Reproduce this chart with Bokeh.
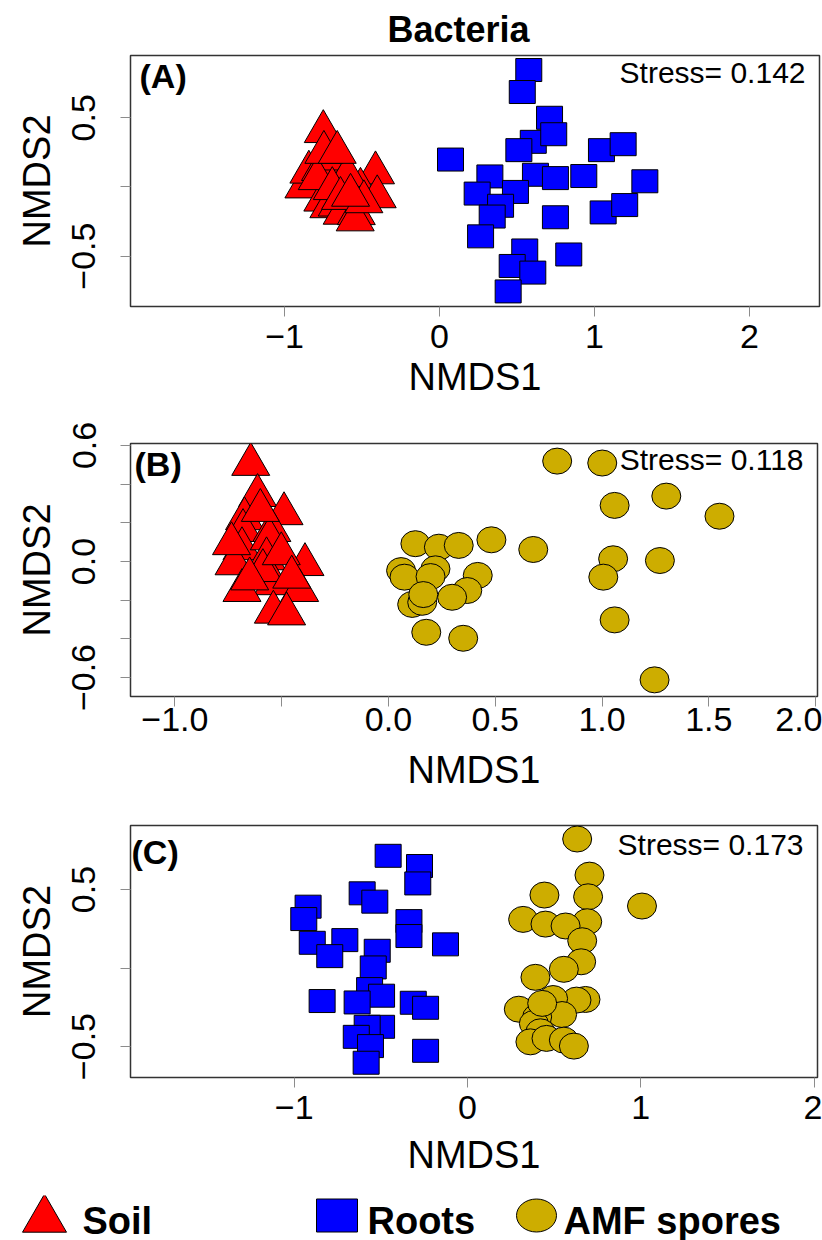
from bokeh.plotting import figure
from bokeh.models import Range1d, FixedTicker, Label
from bokeh.layouts import column
from bokeh.embed import file_html
from bokeh.resources import INLINE
from bokeh.core.properties import value

# ---------------- data ----------------
GROUPS = ["Soil", "Roots", "AMF spores"]
COLORS = {"Soil": "#FF0000", "Roots": "#0000FF", "AMF spores": "#CDAD00"}

# Panel A (Bacteria: Soil vs Roots)
A_SOIL_X = [-0.750, -0.413, -0.875, -0.510, -0.402, -0.753, -0.714, -0.660, -0.628, -0.537,
            -0.544, -0.843, -0.768, -0.725, -0.671, -0.617, -0.595, -0.789, -0.692, -0.639,
            -0.488, -0.574, -0.746, -0.660]
A_SOIL_Y = [0.400, 0.102, 0.000, -0.017, -0.071, -0.095, -0.143, -0.131, -0.190, -0.193,
            -0.238, 0.107, 0.126, 0.155, 0.202, 0.036, 0.083, 0.060, -0.012, -0.083,
            -0.107, -0.060, 0.250, 0.250]
A_ROOTS_X = [0.576, 0.534, 0.710, 0.605, 0.737, 0.512, 1.045, 1.185, 0.325, 0.619,
             0.748, 0.931, 1.325, 0.490, 0.243, 0.394, 0.340, 0.748, 1.056, 1.195,
             0.265, 0.550, 0.834, 0.469, 0.602, 0.443, 0.071]
A_ROOTS_Y = [0.845, 0.686, 0.500, 0.326, 0.381, 0.266, 0.266, 0.309, 0.076, 0.088,
             0.064, 0.079, 0.041, -0.036, -0.048, -0.136, -0.214, -0.219, -0.184, -0.131,
             -0.357, -0.459, -0.488, -0.571, -0.619, -0.755, 0.198]

# Panel B (Soil vs AMF spores)
B_SOIL_X = [-0.645, -0.613, -0.489, -0.674, -0.681, -0.546, -0.686, -0.558, -0.391, -0.723,
            -0.571, -0.539, -0.416, -0.686, -0.539, -0.477, -0.588, -0.735, -0.502, -0.600,
            -0.453, -0.650]
B_SOIL_Y = [0.502, 0.341, 0.247, 0.221, 0.160, 0.160, 0.066, 0.117, -0.016, -0.012,
            0.014, -0.115, -0.150, -0.150, -0.262, -0.271, -0.047, 0.092, 0.040, 0.264,
            -0.081, -0.090]
B_AMF_X = [0.790, 1.001, 1.059, 1.301, 1.550, 0.126, 0.236, 0.329, 0.482, 0.678,
           1.052, 1.271, 1.006, 0.059, 0.075, 0.220, 0.197, 0.418, 0.369, 0.298,
           0.111, 0.158, 0.163, 0.177, 0.350, 1.059, 1.246]
B_AMF_Y = [0.519, 0.509, 0.290, 0.338, 0.234, 0.092, 0.074, 0.083, 0.112, 0.062,
           0.014, 0.005, -0.081, -0.047, -0.081, -0.038, -0.078, -0.072, -0.150, -0.185,
           -0.222, -0.211, -0.171, -0.366, -0.397, -0.302, -0.612]

# Panel C (Roots vs AMF spores)
C_ROOTS_X = [-0.458, -0.277, -0.287, -0.608, -0.535, -0.920, -0.945, -0.338, -0.338, -0.708,
             -0.896, -0.127, -0.795, -0.521, -0.544, -0.565, -0.496, -0.839, -0.637, -0.313,
             -0.242, -0.496, -0.579, -0.642, -0.560, -0.242, -0.585]
C_ROOTS_Y = [0.715, 0.650, 0.539, 0.476, 0.423, 0.391, 0.312, 0.299, 0.204, 0.178,
             0.161, 0.151, 0.076, 0.110, 0.004, -0.134, -0.176, -0.210, -0.219, -0.221,
             -0.253, -0.374, -0.374, -0.438, -0.497, -0.527, -0.603]
C_AMF_X = [0.633, 0.704, 0.444, 0.696, 1.007, 0.321, 0.450, 0.691, 0.566, 0.662,
           0.656, 0.556, 0.392, 0.681, 0.629, 0.494, 0.296, 0.546, 0.402, 0.383,
           0.421, 0.363, 0.456, 0.556, 0.614, 0.431]
C_AMF_Y = [0.822, 0.592, 0.465, 0.454, 0.395, 0.310, 0.280, 0.295, 0.268, 0.174,
           0.040, -0.008, -0.059, -0.200, -0.204, -0.194, -0.262, -0.296, -0.311, -0.353,
           -0.406, -0.470, -0.448, -0.459, -0.497, -0.225]

# tick labels
A_XTICKS = [-1, 0, 1, 2]
A_XLABELS = ["\u22121", "0", "1", "2"]
A_YTICKS = [-0.5, 0, 0.5]
A_YLABELS = ["\u22120.5", "", "0.5"]
B_XTICKS = [-1.0, -0.5, 0.0, 0.5, 1.0, 1.5, 2.0]
B_XLABELS = ["\u22121.0", "", "0.0", "0.5", "1.0", "1.5", "2.0"]
B_YTICKS = [-0.6, -0.4, -0.2, 0.0, 0.2, 0.4, 0.6]
B_YLABELS = ["\u22120.6", "", "", "0.0", "", "", "0.6"]
C_XTICKS = [-1, 0, 1, 2]
C_XLABELS = ["\u22121", "0", "1", "2"]
C_YTICKS = [-0.5, 0, 0.5]
C_YLABELS = ["\u22120.5", "", "0.5"]

STRESS = ["Stress= 0.142", "Stress= 0.118", "Stress= 0.173"]
TAGS = ["(A)", "(B)", "(C)"]

FONT = "Liberation Sans"
W = 822


def no_align(p):
    try:
        p.frame_align = False
    except Exception:
        pass


def panel(height, top, bottom, right, xr, yr, xt, xl, yt, yl, tag, stress,
          tag_off, stress_off, x_standoffs, title=None):
    p = figure(width=W, height=height, x_range=Range1d(*xr), y_range=Range1d(*yr),
               output_backend="svg", toolbar_location=None,
               min_border_left=130, min_border_right=right,
               min_border_top=top, min_border_bottom=bottom)
    no_align(p)
    p.xgrid.visible = False
    p.ygrid.visible = False
    p.outline_line_color = "#333333"
    p.outline_line_width = 1.5
    p.background_fill_color = "white"
    p.border_fill_color = "white"
    p.xaxis.ticker = FixedTicker(ticks=xt)
    p.yaxis.ticker = FixedTicker(ticks=yt)
    p.xaxis.major_label_overrides = {t: s for t, s in zip(xt, xl)}
    p.yaxis.major_label_overrides = {t: s for t, s in zip(yt, yl)}
    p.xaxis.axis_label = "NMDS1"
    p.yaxis.axis_label = "NMDS2"
    p.yaxis.major_label_orientation = "vertical"
    for ax in (p.xaxis[0], p.yaxis[0]):
        ax.axis_line_color = None
        ax.major_tick_line_color = "#8c8c8c"
        ax.major_tick_line_width = 1
        ax.major_tick_out = 10
        ax.major_tick_in = 0
        ax.minor_tick_line_color = None
        ax.major_label_text_font = FONT
        ax.major_label_text_font_size = "34px"
        ax.major_label_text_color = "black"
        ax.axis_label_text_font = FONT
        ax.axis_label_text_font_size = "38px"
        ax.axis_label_text_font_style = "normal"
        ax.axis_label_text_color = "black"
    p.xaxis.major_label_standoff = x_standoffs[0]
    p.xaxis.axis_label_standoff = x_standoffs[1]
    p.yaxis.major_label_standoff = 25
    p.yaxis.axis_label_standoff = 12
    if title:
        p.title.text = title
        p.title.align = "left"
        p.title.text_font = FONT
        p.title.text_font_size = "36px"
        p.title.text_font_style = "bold"
        p.title.text_color = "black"
        p.title.standoff = 12
        p.title.offset = 257
    p.add_layout(Label(x=xr[0], y=yr[1], x_offset=tag_off[0], y_offset=tag_off[1],
                       text=tag, text_font=FONT, text_font_size="34px", text_color="black",
                       text_font_style="bold", text_baseline="top", text_align="left"))
    p.add_layout(Label(x=xr[1], y=yr[1], x_offset=stress_off[0], y_offset=stress_off[1],
                       text=stress, text_font=FONT, text_font_size="30px", text_color="black",
                       text_baseline="top", text_align="right"))
    return p


def triangles(p, xs, ys, size=38):
    p.scatter(xs, ys, marker="triangle", size=size, fill_color=COLORS["Soil"],
              line_color="black", line_width=1)


def squares(p, xs, ys):
    p.rect(xs, ys, width=26, height=23, width_units="screen", height_units="screen",
           fill_color=COLORS["Roots"], line_color="black", line_width=1)


def circles(p, xs, ys):
    p.ellipse(xs, ys, width=29, height=26, width_units="screen", height_units="screen",
              fill_color=COLORS["AMF spores"], line_color="black", line_width=1)


pA = panel(421, 52, 115, 3, (-1.994, 2.452), (-0.864, 0.95), A_XTICKS, A_XLABELS,
           A_YTICKS, A_YLABELS, TAGS[0], STRESS[0], (9, -1), (-14, 0), (8, 5),
           title="Bacteria")
triangles(pA, A_SOIL_X, A_SOIL_Y)
squares(pA, A_ROOTS_X, A_ROOTS_Y)

pB = panel(379, 22, 104, 5, (-1.208, 2.009), (-0.698, 0.61), B_XTICKS, B_XLABELS,
           B_YTICKS, B_YLABELS, TAGS[1], STRESS[1], (4, -1), (-14, 1), (1, 15))
triangles(pB, B_SOIL_X, B_SOIL_Y)
circles(pB, B_AMF_X, B_AMF_Y)

pC = panel(395, 25, 118, 5, (-1.945, 2.02), (-0.697, 0.908), C_XTICKS, C_XLABELS,
           C_YTICKS, C_YLABELS, TAGS[2], STRESS[2], (1, -7), (-14, -2), (8, 12))
squares(pC, C_ROOTS_X, C_ROOTS_Y)
circles(pC, C_AMF_X, C_AMF_Y)

# ---------------- legend row ----------------
LEG_H = 45
pL = figure(width=W, height=LEG_H, x_range=Range1d(0, W), y_range=Range1d(0, LEG_H),
            x_axis_type=None, y_axis_type=None, min_border=0, min_border_left=0,
            min_border_right=0, min_border_top=0, min_border_bottom=0,
            output_backend="svg", toolbar_location=None)
no_align(pL)
pL.xgrid.visible = False
pL.ygrid.visible = False
pL.outline_line_color = None
LEG_MARK_X = [44, 336.5, 536]
LEG_TEXT_X = [82, 367, 563]
pL.scatter([LEG_MARK_X[0]], [21], marker="triangle", size=44, fill_color=COLORS["Soil"],
           line_color="black", line_width=1)
pL.rect([LEG_MARK_X[1]], [25], width=41, height=33, width_units="screen",
        height_units="screen", fill_color=COLORS["Roots"], line_color="black", line_width=1)
pL.ellipse([LEG_MARK_X[2]], [25], width=40, height=33, width_units="screen",
           height_units="screen", fill_color=COLORS["AMF spores"], line_color="black",
           line_width=1)
pL.text(x=LEG_TEXT_X, y=[41, 41, 41], text=GROUPS, text_font=value(FONT),
        text_font_style="bold", text_font_size="38px", text_baseline="top",
        text_color="black")

layout = column(pA, pB, pC, pL, spacing=0)
open("out.html", "w").write(file_html(layout, INLINE))
